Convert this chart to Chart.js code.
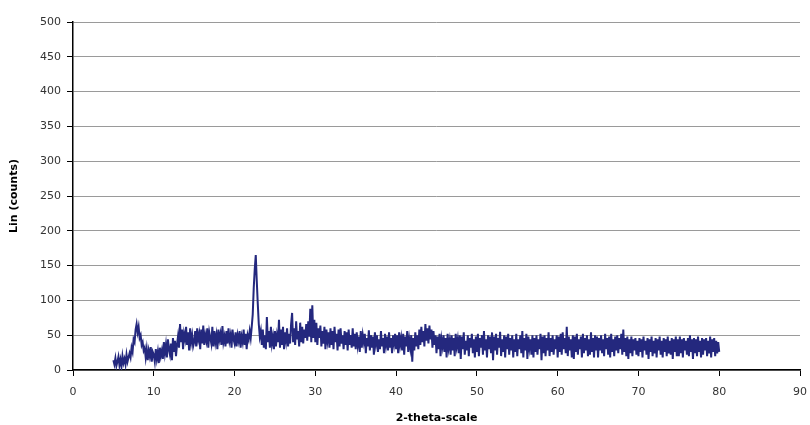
<!DOCTYPE html>
<html>
<head>
<meta charset="utf-8">
<script src="https://cdn.jsdelivr.net/npm/chart.js@4.4.0/dist/chart.umd.min.js"></script>
<style>
  html, body { margin: 0; padding: 0; background: #fff; }
  #wrap { width: 810px; height: 425px; }
</style>
</head>
<body>
<div id="wrap"><canvas id="xrd"></canvas></div>
<script>
// 2-theta scan, one reading every 0.125 degree from 5 to 80 (one row = 5 degrees)
const thetaStart = 5;
const thetaStep = 0.125;
const counts = [
  14, 8, 17, 6, 12, 19, 7, 15, 5, 20, 10, 16, 8, 22, 12, 18,
  24, 18, 32, 26, 44, 40, 58, 66, 54, 62, 46, 50, 36, 40, 28, 32,
  18, 30, 14, 28, 20, 33, 12, 26,

  22, 12, 30, 16, 26, 10, 32, 20,
  28, 16, 40, 24, 36, 18, 44, 30, 22, 38, 14, 46, 26, 42, 20, 36,
  48, 32, 66, 40, 58, 30, 52, 44, 62, 36, 54, 28, 60, 40, 50, 34,

  40, 56, 34, 60, 44, 52, 30, 58, 38, 64, 36, 50, 42, 60, 32, 54,
  46, 38, 62, 34, 56, 40, 50, 30, 58, 44, 52, 36, 63, 40, 48, 34,
  56, 38, 60, 42, 50, 32, 58, 44,

  38, 54, 34, 50, 42, 56, 32, 48, 40, 58, 36, 52, 30, 50, 44, 56,
  46, 62, 80, 118, 145, 165, 128, 95, 66, 48, 56, 36, 58, 32, 50, 30,
  76, 40, 56, 32, 62, 38, 48, 30,

  56, 34, 50, 40, 72, 32, 58, 36, 62, 30, 54, 42, 60, 34, 52, 38,
  66, 82, 40, 60, 36, 70, 44, 56, 34, 68, 40, 62, 38, 58, 46, 66,
  42, 70, 48, 88, 40, 93, 46, 72,

  40, 68, 36, 60, 46, 64, 34, 56, 38, 62, 30, 58, 42, 54, 32, 60,
  36, 56, 30, 62, 40, 52, 28, 58, 34, 60, 38, 50, 30, 56, 36, 54,
  28, 58, 36, 50, 32, 60, 34, 52,

  30, 54, 36, 48, 26, 56, 32, 50, 40, 52, 24, 46, 34, 57, 28, 50,
  32, 48, 22, 54, 38, 50, 26, 44, 30, 56, 34, 46, 24, 52, 36, 48,
  28, 54, 32, 46, 24, 50, 38, 52,

  30, 50, 24, 54, 36, 46, 28, 52, 22, 48, 34, 56, 26, 44, 32, 50,
  12, 46, 28, 54, 34, 50, 30, 58, 36, 62, 40, 56, 34, 66, 42, 60,
  38, 64, 44, 58, 32, 56, 36, 50,

  24, 48, 30, 52, 20, 44, 34, 50, 26, 46, 18, 52, 32, 42, 22, 50,
  28, 46, 20, 52, 34, 44, 24, 50, 16, 48, 30, 54, 22, 42, 28, 50,
  20, 46, 32, 52, 24, 44, 18, 48,

  26, 52, 20, 46, 32, 50, 22, 56, 28, 44, 18, 50, 30, 48, 24, 54,
  14, 48, 28, 52, 22, 46, 32, 55, 20, 44, 26, 50, 18, 48, 30, 52,
  22, 46, 28, 50, 18, 44, 26, 52,

  20, 44, 30, 50, 24, 56, 18, 46, 28, 52, 16, 48, 32, 44, 22, 50,
  18, 46, 26, 50, 22, 44, 30, 52, 14, 48, 24, 50, 20, 46, 28, 54,
  20, 46, 26, 50, 22, 44, 30, 50,

  18, 48, 26, 52, 22, 54, 30, 46, 24, 62, 20, 48, 28, 44, 18, 50,
  16, 48, 26, 52, 22, 44, 30, 48, 18, 52, 24, 46, 28, 50, 20, 44,
  22, 54, 26, 46, 18, 50, 28, 48,

  18, 46, 28, 50, 24, 44, 20, 52, 30, 46, 22, 48, 18, 52, 26, 44,
  20, 48, 28, 50, 24, 46, 30, 52, 22, 58, 26, 46, 20, 48, 16, 44,
  24, 48, 20, 44, 28, 46, 22, 42,

  20, 46, 26, 44, 18, 48, 28, 42, 22, 46, 16, 44, 26, 48, 20, 42,
  24, 46, 18, 44, 28, 48, 22, 42, 18, 46, 26, 44, 20, 48, 24, 42,
  22, 46, 16, 44, 26, 48, 20, 44,

  20, 48, 24, 44, 18, 46, 28, 42, 22, 46, 20, 50, 26, 44, 16, 46,
  24, 44, 20, 48, 26, 42, 18, 46, 22, 44, 28, 46, 20, 42, 24, 48,
  18, 44, 26, 46, 20, 42, 24, 40,

  26
];
const xTicks = [0, 10, 20, 30, 40, 50, 60, 70, 80, 90];
const yTicks = [0, 50, 100, 150, 200, 250, 300, 350, 400, 450, 500];

const points = counts.map((c, i) => ({ x: thetaStart + i * thetaStep, y: c }));

const tickFont = { family: 'DejaVu Sans', size: 11 };
const titleFont = { family: 'DejaVu Sans', size: 11, weight: 'bold' };

new Chart(document.getElementById('xrd'), {
  type: 'line',
  data: {
    datasets: [{
      data: points,
      borderColor: '#24287e',
      borderWidth: 2,
      pointRadius: 0,
      tension: 0,
      fill: false
    }]
  },
  options: {
    responsive: true,
    maintainAspectRatio: false,
    animation: false,
    layout: { padding: { left: 4, right: 10, top: 22, bottom: 0 } },
    plugins: { legend: { display: false }, tooltip: { enabled: false } },
    scales: {
      x: {
        type: 'linear',
        min: 0,
        max: 90,
        afterBuildTicks: (s) => { s.ticks = xTicks.map(v => ({ value: v })); },
        afterFit: (s) => { s.height = 55; s.paddingLeft = 0; s.paddingRight = 0; },
        border: { color: '#000', width: 1.5 },
        grid: { drawOnChartArea: false, drawTicks: true, tickLength: 6, tickColor: '#000' },
        ticks: { font: tickFont, color: '#333', padding: 10, maxRotation: 0 },
        title: { display: true, text: '2-theta-scale', font: titleFont, color: '#000', padding: { top: 12, bottom: 0 } }
      },
      y: {
        min: 0,
        max: 500,
        afterBuildTicks: (s) => { s.ticks = yTicks.map(v => ({ value: v })); },
        afterFit: (s) => { s.width = 69; },
        border: { color: '#000', width: 1.5 },
        grid: { color: '#9a9a9a', lineWidth: 1, drawTicks: true, tickLength: 6, tickColor: '#000' },
        ticks: { font: tickFont, color: '#333', padding: 6 },
        title: { display: true, text: 'Lin (counts)', font: titleFont, color: '#000', padding: { top: 4, bottom: 0 } }
      }
    }
  }
});
</script>
</body>
</html>
